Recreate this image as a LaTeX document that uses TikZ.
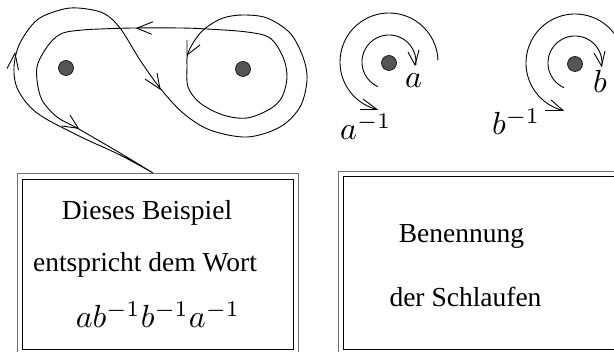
\documentclass[tikz,border=0pt]{standalone}
\usepackage{graphicx}
\usepackage{fontspec}
\setmainfont{Liberation Serif}
\definecolor{dotgray}{HTML}{555555}
\definecolor{framegray}{HTML}{707070}
\newcommand{\bigmath}[1]{\scalebox{3.2}{$#1$}}
\begin{document}
\begin{tikzpicture}[x=1pt,y=-1pt,
  curve/.style={draw=black, line width=0.9pt},
  dot/.style={circle, draw=black, line width=0.6pt, fill=dotgray, minimum size=15pt, inner sep=0pt},
  outerframe/.style={draw=framegray, line width=1pt},
  innerframe/.style={draw=black, line width=1pt},
  txt/.style={inner sep=0pt, font=\fontsize{27.5}{33}\selectfont},
  mtxt/.style={inner sep=0pt, font=\fontsize{10}{12}\selectfont}]
\useasboundingbox (0,0) rectangle (614,352);
\clip (0,0) rectangle (614,352);

% frames
\draw[outerframe] (17,174) rectangle (298,362);
\draw[innerframe] (22,180) rectangle (293,350);
\draw[outerframe] (338,171.5) rectangle (640,362);
\draw[innerframe] (343,176.5) rectangle (635,350);

% box texts
\node[txt, anchor=base] (t1) at (147,220) {Dieses Beispiel};
\node[txt, anchor=base] (t2) at (145,272) {entspricht dem Wort};
\node[mtxt, anchor=base] (t3) at (158,328) {\bigmath{ab^{-1}b^{-1}a^{-1}}};
\node[txt, anchor=base] (t4) at (461.5,243) {Benennung};
\node[txt, anchor=base] (t5) at (465.5,307) {der Schlaufen};

% punctures
\node[dot] (pa) at (66,68) {};
\node[dot] (pb) at (243,69) {};
\node[dot] (qa) at (389,63) {};
\node[dot] (qb) at (575,64) {};

% main loop
\coordinate (base) at (153,173);
\draw[curve] plot[smooth, tension=0.55] coordinates {
 (base) (120,155) (77,135) (37,113) (18,90) (14,67) (20,43) (37,20) (60,10)
 (78,8) (103,13) (120,28) (140,60) (160,88) (183,113) (210,130) (247,137)
 (280,127) (300,107) (307,80) (303,57) (290,33) (267,18) (243,15) (223,18)
 (207,27) (197,37) (188,53) (187,67) (188,87) (200,103) (223,115) (247,118)
 (270,109) (282,97) (287,77) (283,57) (270,38) (247,32) (207,29) (180,28)
 (133,28) (100,29) (83,30) (63,33) (50,43) (38,63) (37,80) (42,100) (57,117)
 (77,128) (120,153) (base)};

% arrowheads on main loop
\draw[curve] (7,68.5) -- (15,53.3) -- (18.5,70);
\draw[curve] (70,115) -- (78.3,128.3) -- (61.7,126);
\draw[curve] (153,21.7) -- (137,28.2) -- (151.7,34.3);
\draw[curve] (145,79) -- (160,89) -- (157,73);
\draw[curve] (187,40) -- (187,55) -- (200,45);

% loops a
\draw[curve] plot[domain=-6:246, samples=80, smooth] ({389+27*cos(\x)},{62-27*sin(\x)});
\draw[curve] plot[domain=2:256, samples=80, smooth] ({389+49*cos(\x)},{62-49*sin(\x)});
\draw[curve] (408,52) -- (415,65) -- (419,50);
\draw[curve] (363,99) -- (377,109.5) -- (360,109.5);
% loops b
\draw[curve] plot[domain=-6:246, samples=80, smooth] ({575+27*cos(\x)},{63-27*sin(\x)});
\draw[curve] plot[domain=2:256, samples=80, smooth] ({575+49*cos(\x)},{63-49*sin(\x)});
\draw[curve] (594,53) -- (601.5,66) -- (605,51);
\draw[curve] (551,100) -- (563,110.5) -- (545,110.5);

% labels
\node[mtxt, anchor=base] (la) at (413.5,88) {\bigmath{a}};
\node[mtxt, anchor=base west] (lai) at (340,140) {\bigmath{a^{-1}}};
\node[mtxt, anchor=base] (lb) at (600,93) {\bigmath{b}};
\node[mtxt, anchor=base west] (lbi) at (492,135) {\bigmath{b^{-1}}};
\end{tikzpicture}
\end{document}
